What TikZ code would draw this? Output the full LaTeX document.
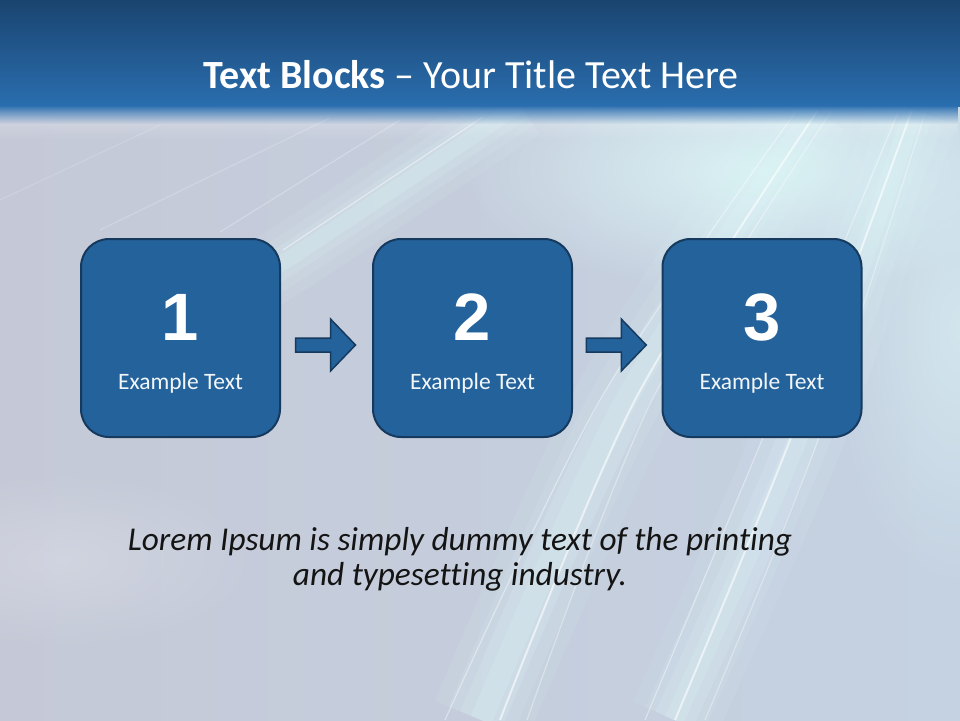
\documentclass[tikz,border=0pt]{standalone}
\usepackage{fontspec}
\setmainfont{Carlito}[Ligatures=NoCommon]
\newfontfamily\numfont{Liberation Sans}
\usetikzlibrary{fadings,calc}
\definecolor{bgL}{HTML}{C5C9D7}
\definecolor{bgR}{HTML}{C5D2E2}
\definecolor{bandT}{HTML}{1A4470}
\definecolor{bandB}{HTML}{2A6EAF}
\definecolor{boxfill}{HTML}{24629B}
\definecolor{boxline}{HTML}{163A5E}
\definecolor{ray}{HTML}{DDF6F7}
\tikzfading[name=glowfade, inner color=transparent!0, outer color=transparent!100]
\newcommand{\softband}[2]{%
  \foreach \w/\o in {1/0.10,0.7/0.13,0.45/0.16,0.22/0.22}{%
    \draw[ray, line width=\w*#1, draw opacity=\o] plot[smooth] coordinates {#2};}}
\begin{document}
\begin{tikzpicture}[x=1pt,y=-1pt,
  blockbox/.style={draw=boxline, line width=2pt, fill=boxfill, rounded corners=28pt, minimum width=199pt, minimum height=198pt, inner sep=0pt},
  numtext/.style={text=white, font=\numfont\bfseries\fontsize{67}{67}\selectfont, anchor=base, inner sep=0pt},
  captext/.style={text=white!94!boxfill, font=\fontsize{23.5}{24}\selectfont, anchor=base, inner sep=0pt},
  blockarrow/.style={draw=boxline, line width=1.5pt, fill=boxfill, line join=miter},
  thinray/.style={draw=white, line width=1.2pt, draw opacity=#1},
]
\useasboundingbox (0,0) rectangle (960,720);
% background
\fill[left color=bgL, right color=bgR] (0,0) rectangle (960,720);
\fill[ray, path fading=glowfade, fill opacity=0.9] (760,170) ellipse [x radius=300, y radius=125];
\fill[ray, path fading=glowfade, fill opacity=0.55] (960,330) ellipse [x radius=130, y radius=260];
\fill[white, path fading=glowfade, fill opacity=0.2] (60,560) ellipse [x radius=200, y radius=90];
% group A rays
\softband{100pt}{(481,720) (626,400) (815,110)}
\draw[thinray=0.4] plot[smooth] coordinates {(445,720) (600,400) (797,110)};
\draw[thinray=0.6, line width=2pt] plot[smooth] coordinates {(500,720) (635,400) (818,110)};
\draw[thinray=0.35] plot[smooth] coordinates {(527,720) (652,400) (832,110)};
% group B rays
\softband{90pt}{(674,720) (797,440) (914,110)}
\draw[thinray=0.4] plot[smooth] coordinates {(645,720) (762,440) (899,110)};
\draw[thinray=0.6, line width=2pt] plot[smooth] coordinates {(675,720) (790,440) (912,110)};
\draw[thinray=0.35] plot[smooth] coordinates {(705,720) (818,440) (926,110)};
% group C rays (upper left)
\softband{70pt}{(520,105) (400,185) (290,258) (215,305)}
\draw[thinray=0.45] (283,250) -- (483,117);
\draw[thinray=0.25] (220,232) -- (400,120);
\draw[thinray=0.2] (100,230) -- (330,118);
\draw[thinray=0.15] (0,200) -- (160,125);
% title band
\fill[top color=bandT, bottom color=bandB] (0,0) rectangle (960,106);
\fill[white, path fading=south, fill opacity=0.35] (0,106) rectangle (960,140);
\fill[bandB, path fading=south] (0,105) rectangle (960,124);
\node[anchor=base, text=white, inner sep=0pt, font=\fontsize{40}{44}\selectfont] (title) at (471,88) {\textbf{Text Blocks} – Your Title Text Here};
% blocks
\node[blockbox] (b1) at (180.5,338) {};
\node[blockbox] (b2) at (472.5,338) {};
\node[blockbox] (b3) at (762,338) {};
\node[numtext] (n1) at ($(b1.center)+(0,2)$) {1};
\node[numtext] (n2) at ($(b2.center)+(0,2)$) {2};
\node[numtext] (n3) at ($(b3.center)+(0,2)$) {3};
\node[captext] (c1) at ($(b1.center)+(0,51)$) {Example Text};
\node[captext] (c2) at ($(b2.center)+(0,51)$) {Example Text};
\node[captext] (c3) at ($(b3.center)+(0,51)$) {Example Text};
% block arrows between the blocks
\coordinate (a1) at ($(b1.east)!0.5!(b2.west)+(-1,7)$);
\coordinate (a2) at ($(b2.east)!0.5!(b3.west)+(-1,7)$);
\foreach \a in {a1,a2}{
  \draw[blockarrow] (\a) ++(-30,-7) -- ++(35,0) -- ++(0,-19) -- ++(25,26) -- ++(-25,26) -- ++(0,-19) -- ++(-35,0) -- cycle;}
% body text
\node[anchor=base, align=center, inner sep=0pt, text=black!92, font=\itshape\fontsize{33.3}{35}\selectfont] (lorem) at (460,585) {Lorem Ipsum is simply dummy text of the printing\\and typesetting industry.};
\end{tikzpicture}
\end{document}
